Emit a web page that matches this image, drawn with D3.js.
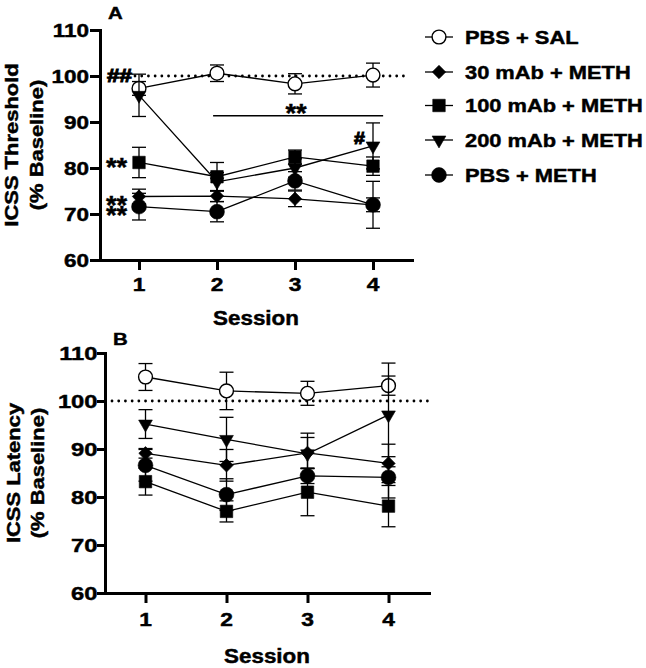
<!DOCTYPE html>
<html><head><meta charset="utf-8">
<script src="https://cdn.jsdelivr.net/npm/d3@7"></script>
<style>
body{margin:0;background:#fff}
svg{display:block}
text{font-family:"Liberation Sans",Arial,Helvetica,sans-serif;font-weight:bold;fill:#000;stroke:#000;stroke-width:0.45px}
text.heavy{stroke-width:1px}
</style>
</head><body>
<svg id="chart" width="646" height="668"></svg>
<script>
// ---------- DATA ----------
const sessions = [1, 2, 3, 4];
const yTickValues = [60, 70, 80, 90, 100, 110];
const groupNames = ["PBS + SAL", "30 mAb + METH", "100 mAb + METH", "200 mAb + METH", "PBS + METH"];
const groupMarkers = ["openCircle", "diamond", "square", "triangleDown", "circle"];

// Panel A: ICSS Threshold (% Baseline), mean and SEM
const thrPbsSal = [97.3, 100.6, 98.3, 100.2];
const thrPbsSalSem = [1.5, 1.8, 2.2, 2.6];
const thr30 = [73.8, 73.9, 73.3, 72.0];
const thr30Sem = [1.6, 1.2, 1.7, 1.5];
const thr100 = [81.2, 78.1, 82.4, 80.4];
const thr100Sem = [3.3, 3.1, 1.5, 2.0];
const thr200 = [95.8, 77.0, 80.0, 84.8];
const thr200Sem = [4.6, 2.0, 2.0, 5.0];
const thrPbsMeth = [71.6, 70.5, 77.2, 72.0];
const thrPbsMethSem = [2.9, 2.2, 2.0, 5.1];

// Panel B: ICSS Latency (% Baseline), mean and SEM
const latPbsSal = [105.0, 102.1, 101.6, 103.2];
const latPbsSalSem = [2.8, 3.9, 2.5, 2.0];
const lat30 = [89.1, 86.6, 89.2, 87.0];
const lat30Sem = [1.0, 3.3, 3.2, 4.0];
const lat100 = [83.2, 77.0, 81.0, 78.1];
const lat100Sem = [2.8, 2.2, 4.9, 4.3];
const lat200 = [95.2, 92.0, 89.0, 97.1];
const lat200Sem = [3.0, 4.6, 4.3, 10.8];
const latPbsMeth = [86.6, 80.5, 84.4, 84.1];
const latPbsMethSem = [3.3, 3.3, 1.6, 4.3];

const baselineValue = 100;

// ---------- DRAWING ----------
const svg = d3.select("#chart");

function txt(sel, x, y, str, size, sx, anchor, rot) {
  return sel.append("text")
    .attr("transform", `translate(${x},${y})` + (rot ? ` rotate(${rot})` : "") + ` scale(${sx},1)`)
    .attr("text-anchor", anchor || "start")
    .style("font-size", size + "px")
    .text(str);
}

function markerPath(type) {
  if (type === "square") return d3.symbol().type(d3.symbolSquare).size(156)();
  if (type === "diamond") return d3.symbol().type(d3.symbolSquare).size(90)();
  if (type === "triangleDown") return d3.symbol().type(d3.symbolTriangle).size(82)();
  return d3.symbol().type(d3.symbolCircle).size(type === "openCircle" ? 150 : 172)();
}
function drawMarker(g, type, x, y) {
  const rot = type === "diamond" ? 45 : (type === "triangleDown" ? 180 : 0);
  g.append("path")
    .attr("d", markerPath(type))
    .attr("transform", `translate(${x},${y}) rotate(${rot})`)
    .attr("fill", type === "openCircle" ? "#fff" : "#000")
    .attr("stroke", "#000")
    .attr("stroke-width", type === "openCircle" ? 1.4 : 0.6);
}

function drawPanel(cfg) {
  const x = d3.scaleLinear().domain([0.5, 4.5]).range(cfg.xRange);
  const y = d3.scaleLinear().domain([60, 110]).range(cfg.yRange);
  const g = svg.append("g");

  // axes
  const ya = g.append("g").attr("transform", `translate(${cfg.xRange[0]},0)`)
    .call(d3.axisLeft(y).tickValues(yTickValues).tickSize(cfg.tickLen).tickSizeOuter(0).tickFormat(""));
  const xa = g.append("g").attr("transform", `translate(0,${cfg.yRange[0]})`)
    .call(d3.axisBottom(x).tickValues(sessions).tickSize(10).tickSizeOuter(0).tickFormat(""));
  [ya, xa].forEach(a => {
    a.select(".domain").attr("stroke", "#000").attr("stroke-width", 3).attr("stroke-linecap", "square");
    a.selectAll(".tick line").attr("stroke", "#000").attr("stroke-width", 3);
  });

  // tick labels
  yTickValues.forEach(v => txt(g, cfg.yLabelRight, y(v) + 6.5, String(v), cfg.yTickFont, 1.25, "end"));
  sessions.forEach(s => txt(g, x(s), cfg.xLabelBase, String(s), 19, 1.2, "middle"));

  // axis titles
  const xm = (cfg.xRange[0] + cfg.xRange[1]) / 2;
  txt(g, xm, cfg.sessionBase, "Session", 20, 1.12, "middle");
  const ym = (cfg.yRange[0] + cfg.yRange[1]) / 2;
  txt(g, cfg.title1X, ym, cfg.title, 18, 1.22, "middle", -90);
  txt(g, cfg.title2X, ym, "(% Baseline)", 18, 1.22, "middle", -90);
  txt(g, cfg.letterX, cfg.letterY, cfg.letter, 17, 1.2, "start");

  // baseline dotted line
  g.append("line")
    .attr("x1", cfg.dotStart).attr("x2", cfg.dotEnd)
    .attr("y1", y(baselineValue)).attr("y2", y(baselineValue))
    .attr("stroke", "#000").attr("stroke-width", 2.8)
    .attr("stroke-linecap", "round").attr("stroke-dasharray", "0.01 6.7");

  // series
  const line = d3.line().x(d => x(d.s)).y(d => y(d.m));
  cfg.series.forEach((sr, i) => {
    const pts = sessions.map((s, j) => ({ s: s, m: sr.mean[j], e: sr.sem[j] }));
    const sg = g.append("g");
    pts.forEach(p => {
      const cx = x(p.s), yt = y(p.m + p.e), yb = y(p.m - p.e);
      sg.append("line").attr("x1", cx).attr("x2", cx).attr("y1", yt).attr("y2", yb).attr("stroke", "#000").attr("stroke-width", 1.3);
      [yt, yb].forEach(yy => sg.append("line").attr("x1", cx - 7).attr("x2", cx + 7).attr("y1", yy).attr("y2", yy).attr("stroke", "#000").attr("stroke-width", 1.3));
    });
    sg.append("path").attr("d", line(pts)).attr("fill", "none").attr("stroke", "#000").attr("stroke-width", 1.3);
    pts.forEach(p => drawMarker(sg, groupMarkers[i], x(p.s), y(p.m)));
  });
  return { x, y, g };
}

const A = drawPanel({
  xRange: [100, 412], yRange: [260, 30], tickLen: 10, yLabelRight: 89, yTickFont: 18,
  xLabelBase: 291, sessionBase: 324.5, title: "ICSS Threshold", title1X: 18, title2X: 43,
  letter: "A", letterX: 108, letterY: 19, dotStart: 135, dotEnd: 408,
  series: [
    { mean: thrPbsSal, sem: thrPbsSalSem },
    { mean: thr30, sem: thr30Sem },
    { mean: thr100, sem: thr100Sem },
    { mean: thr200, sem: thr200Sem },
    { mean: thrPbsMeth, sem: thrPbsMethSem }
  ]
});

drawPanel({
  xRange: [105, 429], yRange: [593, 353], tickLen: 8, yLabelRight: 97.5, yTickFont: 19,
  xLabelBase: 625.5, sessionBase: 663, title: "ICSS Latency", title1X: 20, title2X: 44,
  letter: "B", letterX: 113, letterY: 345, dotStart: 112, dotEnd: 431,
  series: [
    { mean: latPbsSal, sem: latPbsSalSem },
    { mean: lat30, sem: lat30Sem },
    { mean: lat100, sem: lat100Sem },
    { mean: lat200, sem: lat200Sem },
    { mean: latPbsMeth, sem: latPbsMethSem }
  ]
});

// significance marks on panel A
const ag = A.g;
txt(ag, 107, 81.5, "##", 18, 1.25, "start").attr("class", "heavy");
txt(ag, 106, 176, "**", 26, 1.05, "start");
// two stacked "**" marks (session 1, 30 mAb and PBS + METH) as one text block
const stacked = ag.append("text")
  .attr("transform", "translate(106,214) scale(1.05,1)")
  .style("font-size", "26px");
stacked.append("tspan").attr("x", 0).attr("y", 0).text("**");
stacked.append("tspan").attr("x", 0).attr("y", 10).text("**");
ag.append("line").attr("x1", A.x(1.95)).attr("x2", A.x(4.13)).attr("y1", 115.7).attr("y2", 115.7)
  .attr("stroke", "#000").attr("stroke-width", 1.5);
txt(ag, 296, 121.5, "**", 26, 1.05, "middle");
txt(ag, 354, 143.5, "#", 17, 1.15, "start").attr("class", "heavy");

// legend
const lg = svg.append("g");
const legendY = [37, 72, 105.5, 140, 175];
groupNames.forEach((name, i) => {
  const yy = legendY[i];
  lg.append("line").attr("x1", 425).attr("x2", 453).attr("y1", yy).attr("y2", yy).attr("stroke", "#000").attr("stroke-width", 1.3);
  drawMarker(lg, groupMarkers[i], 439, yy);
  txt(lg, 465, yy + 6.8, name, 19, 1.15, "start");
});
</script>
</body></html>
